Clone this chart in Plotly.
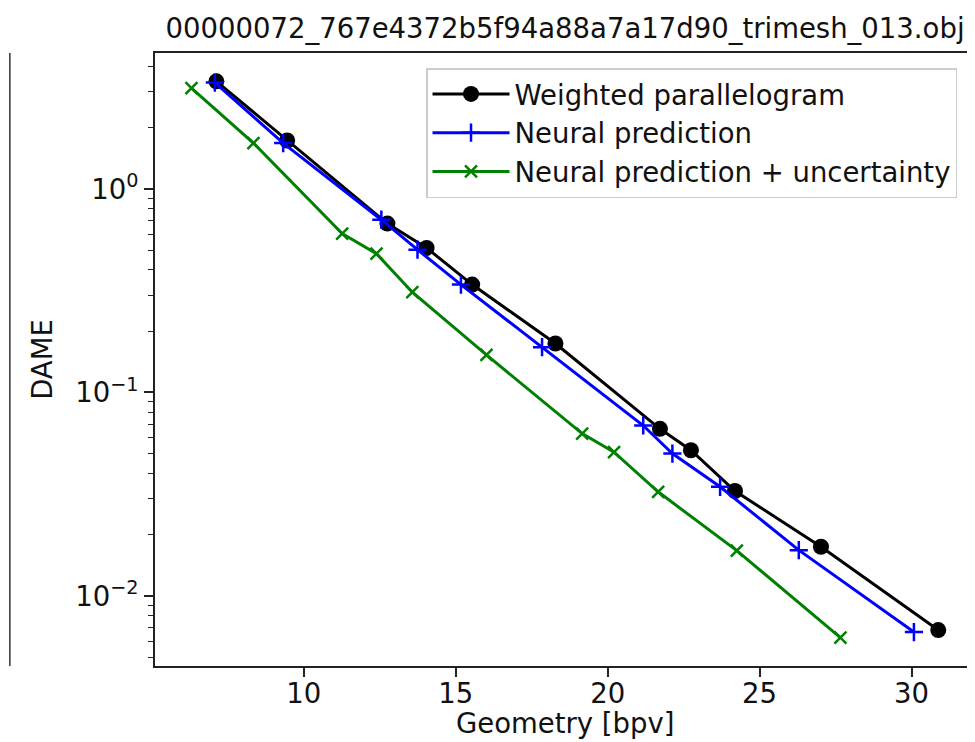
import plotly.graph_objects as go

# values
weighted_bpv = [7.12, 9.45, 12.75, 14.04, 15.54, 18.28, 21.72, 22.74, 24.19, 27.02, 30.88]
weighted_dame = [3.38, 1.73, 0.676, 0.513, 0.339, 0.174, 0.0663, 0.052, 0.0328, 0.01745, 0.0068]

neural_bpv = [7.07, 9.32, 12.55, 13.74, 15.17, 17.84, 21.17, 22.13, 23.70, 26.29, 30.08]
neural_dame = [3.33, 1.68, 0.706, 0.503, 0.339, 0.167, 0.0688, 0.0501, 0.0344, 0.0168, 0.00665]

uncert_bpv = [6.30, 8.34, 11.26, 12.39, 13.57, 16.01, 19.16, 20.21, 21.66, 24.25, 27.66]
uncert_dame = [3.13, 1.68, 0.603, 0.481, 0.311, 0.153, 0.0628, 0.0509, 0.0325, 0.0167, 0.00624]

y_tickvals = [1, 0.1, 0.01]
y_ticktext = ['10<sup>0</sup>', '10<sup>\u22121</sup>', '10<sup>\u22122</sup>']

title = '00000072_767e4372b5f94a88a7a17d90_trimesh_013.obj'
x_title = 'Geometry [bpv]'

font_family = 'DejaVu Sans'
fsize = 27.5

fig = go.Figure()

fig.add_trace(go.Scatter(x=weighted_bpv, y=weighted_dame, mode='lines+markers',
                         name='Weighted parallelogram',
                         line=dict(color='#000000', width=3),
                         marker=dict(symbol='circle', size=16, color='#000000')))
fig.add_trace(go.Scatter(x=neural_bpv, y=neural_dame, mode='lines+markers',
                         name='Neural prediction',
                         line=dict(color='#0000ff', width=3),
                         marker=dict(symbol='cross-thin', size=13,
                                     line=dict(color='#0000ff', width=2.5))))
fig.add_trace(go.Scatter(x=uncert_bpv, y=uncert_dame, mode='lines+markers',
                         name='Neural prediction + uncertainty',
                         line=dict(color='#008000', width=3),
                         marker=dict(symbol='x-thin', size=12,
                                     line=dict(color='#008000', width=2.5))))

axis_common = dict(showline=True, linecolor='#222222', linewidth=1.8, mirror=True,
                   showgrid=False, zeroline=False, ticks='outside', ticklen=9,
                   tickwidth=1.5, tickcolor='#222222', automargin=False,
                   tickfont=dict(family=font_family, size=fsize, color='#111111'))

fig.update_xaxes(range=[5.10, 32.09], dtick=5, ticklabelstandoff=-7, **axis_common)
fig.update_yaxes(type='log', range=[-2.344, 0.668],
                 tickvals=y_tickvals, ticktext=y_ticktext,
                 minor=dict(ticks='outside', ticklen=5, tickwidth=1.2, tickcolor='#222222',
                            dtick='D1', showgrid=False),
                 title=dict(text='DAME',
                            font=dict(family=font_family, size=fsize, color='#111111')),
                 **axis_common)

# x axis title as an annotation so it can sit closer to the tick labels
fig.add_annotation(text=x_title, xref='paper', yref='paper', x=0.5, y=0,
                   xanchor='center', yanchor='middle', yshift=-57, showarrow=False,
                   font=dict(family=font_family, size=fsize, color='#111111'))

# right edge of the neighbouring panel, cut off at the left border
fig.add_shape(type='line', xref='paper', yref='paper', x0=-0.177, x1=-0.177, y0=0, y1=1,
              line=dict(color='#333333', width=1.5))

fig.update_layout(
    width=975, height=742,
    margin=dict(l=147, r=8, t=45, b=84, autoexpand=False),
    paper_bgcolor='white', plot_bgcolor='white',
    font=dict(family=font_family, size=fsize, color='#111111'),
    title=dict(text=title, x=0.5, xref='paper', xanchor='center',
               y=1 - 20 / 742, yref='container', yanchor='middle',
               font=dict(family=font_family, size=fsize, color='#111111')),
    legend=dict(x=0.3305, y=0.9755, xanchor='left', yanchor='top',
                bgcolor='rgba(255,255,255,0.8)', bordercolor='#cccccc', borderwidth=1.5,
                font=dict(family=font_family, size=fsize, color='#111111'),
                itemwidth=77),
    showlegend=True,
)

fig.write_html('out.html')
